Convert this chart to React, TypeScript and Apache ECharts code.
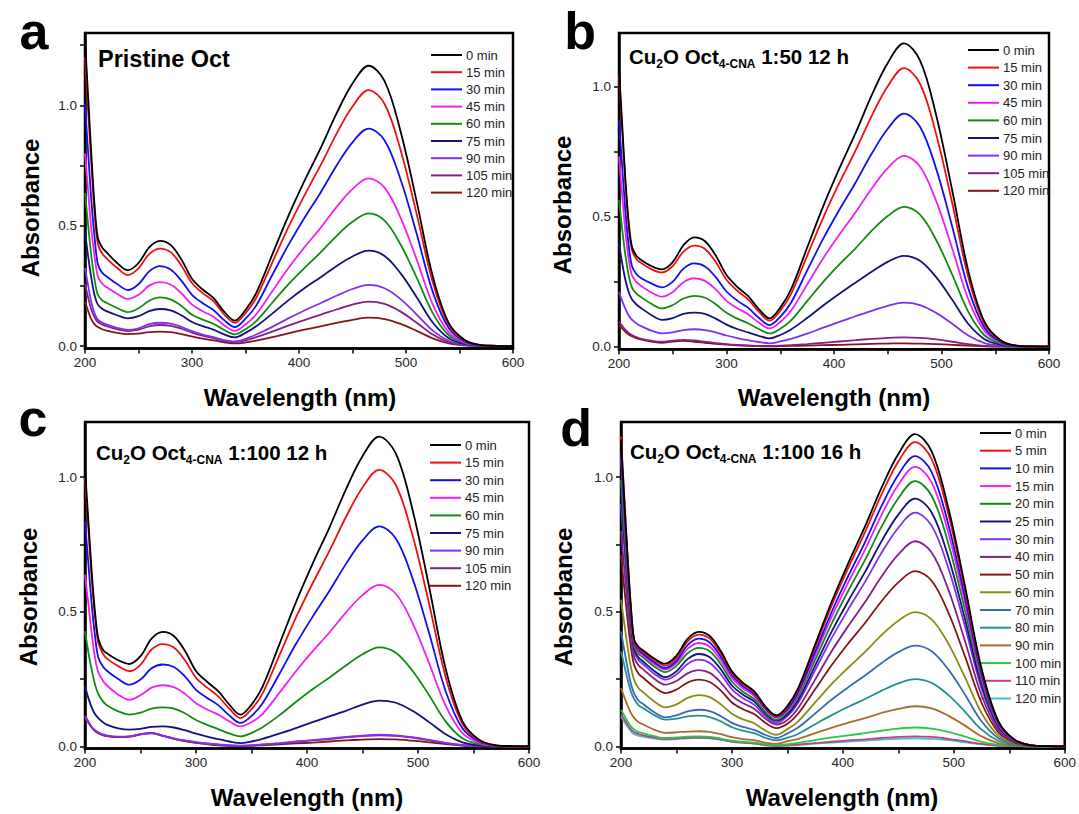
import React, { useEffect, useRef } from "react";
import * as echarts from "echarts";

const FONT = 'Arial, "Liberation Sans", Helvetica, sans-serif';

// wavelengths (nm)
const WAVELENGTHS = [200, 203, 206, 209, 212, 216, 220, 230, 240, 250, 260, 270, 280, 290, 300, 310, 320, 330, 340, 350, 360, 375, 390, 405, 420, 435, 450, 465, 480, 495, 510, 525, 540, 555, 570, 585, 600];

const X_TICKS = [200, 250, 300, 350, 400, 450, 500, 550, 600];
const X_LABELS = [200, 300, 400, 500, 600];
const Y_LABELS = [0, 0.5, 1.0];

const TIMES_ABC = ["0 min", "15 min", "30 min", "45 min", "60 min", "75 min", "90 min", "105 min", "120 min"];
const TIMES_D = ["0 min", "5 min", "10 min", "15 min", "20 min", "25 min", "30 min", "40 min", "50 min", "60 min", "70 min", "80 min", "90 min", "100 min", "110 min", "120 min"];

const COLORS_ABC = ["#000000", "#f01010", "#1010f0", "#f020f0", "#138a13", "#12127a", "#8030f0", "#862086", "#861616"];
const COLORS_D = ["#000000", "#f01010", "#1010f0", "#f020f0", "#138a13", "#12127a", "#8030f0", "#862086", "#861616", "#8c8c14", "#3a6ab4", "#259090", "#ad6a28", "#28c84a", "#c83c86", "#3cc4cc"];

// Panel a: Pristine Oct
const A_0 = [1.275, 1.03, 0.79, 0.58, 0.45, 0.41, 0.39, 0.345, 0.315, 0.345, 0.41, 0.437, 0.42, 0.36, 0.28, 0.235, 0.2, 0.143, 0.106, 0.15, 0.22, 0.38, 0.54, 0.685, 0.82, 0.965, 1.09, 1.164, 1.1, 0.89, 0.6, 0.29, 0.095, 0.025, 0.004, 0.001, 0];
const A_15 = [1.2, 0.97, 0.75, 0.55, 0.425, 0.385, 0.365, 0.325, 0.295, 0.323, 0.382, 0.405, 0.39, 0.335, 0.262, 0.22, 0.187, 0.132, 0.097, 0.137, 0.2, 0.347, 0.493, 0.625, 0.749, 0.881, 0.995, 1.063, 1.005, 0.813, 0.548, 0.265, 0.087, 0.023, 0.004, 0.001, 0];
const A_30 = [1.005, 0.8, 0.6, 0.45, 0.34, 0.305, 0.29, 0.258, 0.233, 0.257, 0.31, 0.332, 0.318, 0.272, 0.213, 0.178, 0.15, 0.108, 0.079, 0.114, 0.168, 0.295, 0.419, 0.532, 0.636, 0.749, 0.846, 0.903, 0.854, 0.691, 0.466, 0.225, 0.074, 0.019, 0.003, 0.001, 0];
const A_45 = [0.8, 0.64, 0.48, 0.37, 0.29, 0.26, 0.245, 0.217, 0.196, 0.213, 0.251, 0.266, 0.256, 0.22, 0.172, 0.145, 0.122, 0.087, 0.063, 0.09, 0.132, 0.228, 0.323, 0.41, 0.49, 0.577, 0.652, 0.696, 0.658, 0.532, 0.359, 0.173, 0.057, 0.015, 0.003, 0.001, 0];
const A_60 = [0.636, 0.5, 0.37, 0.275, 0.213, 0.19, 0.18, 0.158, 0.141, 0.157, 0.188, 0.202, 0.194, 0.167, 0.13, 0.11, 0.093, 0.067, 0.049, 0.07, 0.104, 0.18, 0.256, 0.324, 0.388, 0.457, 0.516, 0.551, 0.521, 0.421, 0.284, 0.137, 0.045, 0.012, 0.002, 0, 0];
const A_75 = [0.476, 0.37, 0.28, 0.21, 0.172, 0.155, 0.145, 0.128, 0.115, 0.124, 0.145, 0.154, 0.148, 0.128, 0.1, 0.083, 0.068, 0.049, 0.036, 0.055, 0.082, 0.135, 0.19, 0.24, 0.285, 0.332, 0.372, 0.396, 0.374, 0.302, 0.203, 0.098, 0.033, 0.009, 0.002, 0, 0];
const A_90 = [0.325, 0.25, 0.18, 0.135, 0.11, 0.098, 0.09, 0.076, 0.067, 0.074, 0.091, 0.097, 0.093, 0.08, 0.062, 0.048, 0.037, 0.025, 0.019, 0.03, 0.048, 0.08, 0.115, 0.148, 0.178, 0.209, 0.237, 0.254, 0.24, 0.195, 0.131, 0.064, 0.022, 0.006, 0.001, 0, 0];
const A_105 = [0.26, 0.2, 0.15, 0.12, 0.1, 0.09, 0.083, 0.07, 0.0625, 0.068, 0.082, 0.0875, 0.084, 0.072, 0.056, 0.043, 0.033, 0.022, 0.016, 0.024, 0.037, 0.06, 0.085, 0.108, 0.13, 0.152, 0.172, 0.185, 0.175, 0.143, 0.097, 0.048, 0.016, 0.004, 0.001, 0, 0];
const A_120 = [0.185, 0.145, 0.11, 0.09, 0.079, 0.07, 0.064, 0.055, 0.05, 0.052, 0.058, 0.06, 0.058, 0.05, 0.04, 0.031, 0.024, 0.016, 0.011, 0.015, 0.023, 0.037, 0.053, 0.068, 0.082, 0.096, 0.109, 0.118, 0.112, 0.092, 0.063, 0.032, 0.011, 0.003, 0.001, 0, 0];

// Panel b: Cu2O Oct4-CNA 1:50 12 h
const B_0 = [1.07, 0.85, 0.64, 0.48, 0.385, 0.35, 0.335, 0.31, 0.297, 0.325, 0.39, 0.42, 0.405, 0.35, 0.275, 0.23, 0.195, 0.145, 0.109, 0.15, 0.22, 0.38, 0.54, 0.685, 0.82, 0.965, 1.09, 1.165, 1.1, 0.89, 0.6, 0.29, 0.095, 0.025, 0.004, 0.001, 0];
const B_15 = [1.045, 0.83, 0.62, 0.465, 0.372, 0.338, 0.323, 0.298, 0.285, 0.31, 0.365, 0.388, 0.375, 0.325, 0.257, 0.215, 0.182, 0.135, 0.1, 0.138, 0.202, 0.349, 0.496, 0.629, 0.753, 0.886, 1.0, 1.07, 1.01, 0.817, 0.551, 0.266, 0.087, 0.023, 0.004, 0.001, 0];
const B_30 = [0.87, 0.69, 0.52, 0.39, 0.31, 0.28, 0.265, 0.243, 0.228, 0.25, 0.3, 0.32, 0.308, 0.267, 0.212, 0.177, 0.15, 0.111, 0.083, 0.115, 0.169, 0.292, 0.415, 0.526, 0.63, 0.741, 0.837, 0.895, 0.845, 0.684, 0.461, 0.223, 0.073, 0.019, 0.003, 0.001, 0];
const B_45 = [0.73, 0.58, 0.44, 0.335, 0.275, 0.25, 0.235, 0.208, 0.192, 0.21, 0.248, 0.263, 0.253, 0.22, 0.176, 0.148, 0.125, 0.093, 0.07, 0.095, 0.138, 0.239, 0.34, 0.431, 0.516, 0.607, 0.686, 0.733, 0.692, 0.56, 0.377, 0.182, 0.06, 0.016, 0.003, 0.001, 0];
const B_60 = [0.564, 0.45, 0.35, 0.275, 0.228, 0.205, 0.192, 0.165, 0.147, 0.16, 0.185, 0.195, 0.188, 0.163, 0.13, 0.108, 0.09, 0.068, 0.051, 0.069, 0.101, 0.175, 0.249, 0.316, 0.378, 0.445, 0.502, 0.537, 0.507, 0.41, 0.277, 0.134, 0.044, 0.012, 0.002, 0, 0];
const B_75 = [0.397, 0.32, 0.255, 0.21, 0.182, 0.163, 0.15, 0.122, 0.103, 0.11, 0.126, 0.131, 0.126, 0.108, 0.085, 0.068, 0.055, 0.042, 0.032, 0.045, 0.066, 0.11, 0.158, 0.203, 0.246, 0.288, 0.326, 0.349, 0.33, 0.267, 0.18, 0.087, 0.029, 0.008, 0.001, 0, 0];
const B_90 = [0.21, 0.175, 0.145, 0.12, 0.104, 0.09, 0.08, 0.062, 0.051, 0.055, 0.064, 0.067, 0.064, 0.055, 0.043, 0.033, 0.025, 0.018, 0.013, 0.02, 0.03, 0.05, 0.073, 0.095, 0.117, 0.138, 0.157, 0.169, 0.16, 0.13, 0.088, 0.043, 0.014, 0.004, 0.001, 0, 0];
const B_105 = [0.096, 0.08, 0.065, 0.053, 0.045, 0.037, 0.031, 0.023, 0.019, 0.023, 0.026, 0.024, 0.019, 0.014, 0.01, 0.007, 0.005, 0.003, 0.003, 0.004, 0.006, 0.01, 0.015, 0.02, 0.025, 0.03, 0.034, 0.036, 0.034, 0.028, 0.019, 0.01, 0.003, 0.001, 0, 0, 0];
const B_120 = [0.083, 0.07, 0.057, 0.047, 0.04, 0.033, 0.028, 0.02, 0.015, 0.02, 0.022, 0.019, 0.015, 0.011, 0.008, 0.005, 0.003, 0.002, 0.001, 0.002, 0.003, 0.004, 0.006, 0.007, 0.009, 0.011, 0.012, 0.013, 0.012, 0.01, 0.007, 0.004, 0.001, 0, 0, 0, 0];

// Panel c: Cu2O Oct4-CNA 1:100 12 h
const C_0 = [1.035, 0.84, 0.65, 0.5, 0.4, 0.36, 0.345, 0.32, 0.306, 0.335, 0.4, 0.425, 0.41, 0.355, 0.28, 0.24, 0.205, 0.155, 0.118, 0.155, 0.222, 0.378, 0.535, 0.678, 0.811, 0.954, 1.078, 1.151, 1.088, 0.88, 0.593, 0.287, 0.094, 0.025, 0.004, 0.001, 0];
const C_15 = [1.0, 0.81, 0.625, 0.48, 0.385, 0.345, 0.325, 0.298, 0.279, 0.303, 0.36, 0.38, 0.367, 0.32, 0.255, 0.218, 0.186, 0.14, 0.105, 0.138, 0.197, 0.337, 0.478, 0.605, 0.724, 0.851, 0.962, 1.027, 0.971, 0.785, 0.53, 0.256, 0.084, 0.022, 0.004, 0.001, 0];
const C_30 = [0.836, 0.68, 0.53, 0.41, 0.33, 0.298, 0.28, 0.25, 0.229, 0.248, 0.29, 0.304, 0.295, 0.26, 0.21, 0.18, 0.153, 0.115, 0.087, 0.113, 0.16, 0.268, 0.38, 0.481, 0.576, 0.677, 0.765, 0.817, 0.772, 0.625, 0.421, 0.204, 0.067, 0.018, 0.003, 0.001, 0];
const C_45 = [0.638, 0.53, 0.42, 0.33, 0.275, 0.245, 0.225, 0.192, 0.173, 0.19, 0.218, 0.227, 0.22, 0.195, 0.16, 0.137, 0.118, 0.093, 0.074, 0.09, 0.121, 0.198, 0.279, 0.353, 0.422, 0.497, 0.562, 0.6, 0.567, 0.459, 0.309, 0.15, 0.049, 0.013, 0.002, 0, 0];
const C_60 = [0.428, 0.35, 0.285, 0.23, 0.195, 0.168, 0.152, 0.13, 0.118, 0.125, 0.14, 0.145, 0.14, 0.123, 0.098, 0.08, 0.064, 0.048, 0.037, 0.05, 0.071, 0.115, 0.165, 0.212, 0.255, 0.3, 0.342, 0.368, 0.348, 0.281, 0.19, 0.092, 0.03, 0.008, 0.001, 0, 0];
const C_75 = [0.223, 0.18, 0.145, 0.12, 0.105, 0.09, 0.08, 0.067, 0.062, 0.065, 0.072, 0.074, 0.07, 0.06, 0.047, 0.036, 0.027, 0.018, 0.012, 0.018, 0.028, 0.047, 0.068, 0.09, 0.111, 0.132, 0.155, 0.17, 0.162, 0.132, 0.09, 0.045, 0.015, 0.004, 0.001, 0, 0];
const C_90 = [0.11, 0.09, 0.072, 0.06, 0.052, 0.045, 0.04, 0.036, 0.037, 0.045, 0.049, 0.04, 0.03, 0.022, 0.016, 0.011, 0.007, 0.004, 0.003, 0.004, 0.007, 0.012, 0.018, 0.023, 0.029, 0.035, 0.04, 0.043, 0.041, 0.034, 0.024, 0.013, 0.005, 0.002, 0.001, 0.001, 0.001];
const C_105 = [0.11, 0.088, 0.07, 0.058, 0.05, 0.043, 0.039, 0.035, 0.036, 0.044, 0.048, 0.039, 0.029, 0.021, 0.015, 0.01, 0.006, 0.003, 0.002, 0.003, 0.006, 0.011, 0.017, 0.022, 0.027, 0.033, 0.038, 0.041, 0.039, 0.032, 0.022, 0.012, 0.004, 0.001, 0, 0, 0];
const C_120 = [0.115, 0.092, 0.072, 0.058, 0.049, 0.042, 0.038, 0.034, 0.036, 0.045, 0.05, 0.04, 0.028, 0.019, 0.013, 0.008, 0.004, 0.002, 0.001, 0.002, 0.004, 0.007, 0.011, 0.014, 0.018, 0.022, 0.025, 0.027, 0.026, 0.021, 0.015, 0.008, 0.003, 0.001, 0, 0, 0];

// Panel d: Cu2O Oct4-CNA 1:100 16 h
const D_0 = [1.14, 0.916, 0.7, 0.514, 0.395, 0.369, 0.356, 0.326, 0.307, 0.337, 0.399, 0.425, 0.41, 0.354, 0.279, 0.236, 0.205, 0.149, 0.115, 0.15, 0.219, 0.378, 0.538, 0.682, 0.817, 0.962, 1.086, 1.16, 1.096, 0.887, 0.597, 0.289, 0.095, 0.024, 0.004, 0.001, 0];
const D_5 = [1.15, 0.922, 0.702, 0.512, 0.39, 0.363, 0.35, 0.32, 0.3, 0.329, 0.39, 0.415, 0.4, 0.345, 0.273, 0.23, 0.2, 0.145, 0.112, 0.146, 0.214, 0.368, 0.524, 0.664, 0.796, 0.937, 1.058, 1.13, 1.068, 0.864, 0.582, 0.281, 0.093, 0.024, 0.004, 0.001, 0];
const D_10 = [1.09, 0.878, 0.674, 0.498, 0.385, 0.357, 0.344, 0.312, 0.291, 0.318, 0.376, 0.4, 0.386, 0.333, 0.264, 0.223, 0.194, 0.142, 0.11, 0.139, 0.204, 0.351, 0.5, 0.634, 0.759, 0.894, 1.009, 1.078, 1.019, 0.825, 0.555, 0.268, 0.088, 0.023, 0.004, 0.001, 0];
const D_15 = [1.07, 0.863, 0.663, 0.49, 0.38, 0.352, 0.338, 0.306, 0.285, 0.31, 0.362, 0.384, 0.37, 0.32, 0.254, 0.215, 0.187, 0.137, 0.107, 0.134, 0.196, 0.338, 0.482, 0.61, 0.731, 0.861, 0.972, 1.038, 0.981, 0.794, 0.535, 0.258, 0.085, 0.022, 0.004, 0.001, 0];
const D_20 = [0.99, 0.805, 0.625, 0.471, 0.372, 0.343, 0.33, 0.297, 0.276, 0.299, 0.346, 0.366, 0.353, 0.305, 0.241, 0.203, 0.176, 0.128, 0.099, 0.127, 0.186, 0.321, 0.457, 0.579, 0.693, 0.817, 0.922, 0.985, 0.931, 0.754, 0.507, 0.245, 0.081, 0.021, 0.003, 0.001, 0];
const D_25 = [0.95, 0.773, 0.602, 0.454, 0.36, 0.329, 0.315, 0.28, 0.257, 0.279, 0.324, 0.343, 0.331, 0.286, 0.226, 0.192, 0.167, 0.122, 0.095, 0.119, 0.174, 0.3, 0.427, 0.541, 0.648, 0.763, 0.861, 0.92, 0.869, 0.704, 0.474, 0.229, 0.075, 0.019, 0.003, 0.001, 0];
const D_30 = [0.9, 0.735, 0.576, 0.438, 0.35, 0.319, 0.305, 0.27, 0.248, 0.267, 0.306, 0.322, 0.31, 0.268, 0.212, 0.179, 0.155, 0.113, 0.087, 0.112, 0.164, 0.283, 0.403, 0.51, 0.611, 0.72, 0.812, 0.868, 0.82, 0.664, 0.447, 0.216, 0.071, 0.018, 0.003, 0.001, 0];
const D_40 = [0.8, 0.659, 0.523, 0.405, 0.33, 0.3, 0.286, 0.251, 0.229, 0.243, 0.271, 0.283, 0.273, 0.237, 0.188, 0.16, 0.14, 0.103, 0.081, 0.098, 0.144, 0.248, 0.354, 0.448, 0.536, 0.632, 0.713, 0.762, 0.72, 0.583, 0.392, 0.19, 0.062, 0.016, 0.003, 0.001, 0];
const D_50 = [0.71, 0.587, 0.468, 0.366, 0.3, 0.269, 0.255, 0.22, 0.198, 0.211, 0.237, 0.248, 0.239, 0.207, 0.163, 0.138, 0.12, 0.088, 0.068, 0.084, 0.123, 0.212, 0.302, 0.383, 0.458, 0.54, 0.609, 0.651, 0.615, 0.498, 0.335, 0.162, 0.053, 0.014, 0.002, 0.001, 0];
const D_60 = [0.545, 0.455, 0.368, 0.293, 0.245, 0.215, 0.201, 0.167, 0.145, 0.156, 0.18, 0.19, 0.183, 0.156, 0.121, 0.1, 0.086, 0.059, 0.043, 0.064, 0.094, 0.163, 0.232, 0.293, 0.351, 0.414, 0.467, 0.499, 0.472, 0.382, 0.257, 0.124, 0.041, 0.01, 0.002, 0, 0];
const D_70 = [0.427, 0.357, 0.29, 0.232, 0.195, 0.169, 0.157, 0.127, 0.108, 0.115, 0.13, 0.136, 0.131, 0.112, 0.087, 0.072, 0.061, 0.043, 0.031, 0.048, 0.071, 0.122, 0.174, 0.22, 0.263, 0.31, 0.35, 0.374, 0.353, 0.286, 0.193, 0.093, 0.031, 0.008, 0.001, 0, 0];
const D_80 = [0.353, 0.3, 0.248, 0.203, 0.175, 0.152, 0.142, 0.116, 0.099, 0.103, 0.111, 0.114, 0.109, 0.093, 0.071, 0.058, 0.049, 0.032, 0.022, 0.032, 0.047, 0.082, 0.116, 0.147, 0.176, 0.207, 0.234, 0.25, 0.236, 0.191, 0.129, 0.062, 0.021, 0.005, 0.001, 0, 0];
const D_90 = [0.217, 0.183, 0.151, 0.123, 0.105, 0.089, 0.081, 0.062, 0.05, 0.052, 0.055, 0.056, 0.054, 0.045, 0.034, 0.027, 0.023, 0.014, 0.009, 0.019, 0.028, 0.049, 0.069, 0.088, 0.105, 0.124, 0.139, 0.149, 0.141, 0.114, 0.077, 0.037, 0.012, 0.003, 0.001, 0, 0];
const D_100 = [0.136, 0.114, 0.092, 0.074, 0.062, 0.053, 0.048, 0.038, 0.031, 0.033, 0.036, 0.037, 0.035, 0.029, 0.021, 0.017, 0.014, 0.008, 0.004, 0.008, 0.013, 0.023, 0.033, 0.041, 0.049, 0.058, 0.066, 0.07, 0.066, 0.054, 0.036, 0.017, 0.006, 0.002, 0, 0, 0];
const D_110 = [0.12, 0.1, 0.08, 0.063, 0.052, 0.045, 0.041, 0.033, 0.027, 0.029, 0.032, 0.033, 0.031, 0.026, 0.018, 0.014, 0.011, 0.005, 0.002, 0.004, 0.007, 0.012, 0.017, 0.022, 0.026, 0.031, 0.035, 0.037, 0.035, 0.028, 0.019, 0.009, 0.003, 0.001, 0, 0, 0];
const D_120 = [0.111, 0.091, 0.072, 0.056, 0.045, 0.039, 0.036, 0.029, 0.025, 0.027, 0.03, 0.031, 0.03, 0.024, 0.017, 0.013, 0.01, 0.004, 0.001, 0.003, 0.005, 0.01, 0.014, 0.018, 0.021, 0.025, 0.028, 0.03, 0.028, 0.023, 0.015, 0.007, 0.002, 0.001, 0, 0, 0];

const PANELS = [
  {
    key: "a",
    names: TIMES_ABC,
    colors: COLORS_ABC,
    values: [A_0, A_15, A_30, A_45, A_60, A_75, A_90, A_105, A_120],
    grid: { left: 85, top: 33, width: 428, height: 315.5 },
    yMin: -0.01,
    yMax: 1.3,
    yTicks: [0, 0.25, 0.5, 0.75, 1.0, 1.25],
    legend: { left: 426, top: 43, gap: 3.2 },
  },
  {
    key: "b",
    names: TIMES_ABC,
    colors: COLORS_ABC,
    values: [B_0, B_15, B_30, B_45, B_60, B_75, B_90, B_105, B_120],
    grid: { left: 619, top: 33, width: 430, height: 316.3 },
    yMin: -0.01,
    yMax: 1.205,
    yTicks: [0, 0.25, 0.5, 0.75, 1.0],
    legend: { left: 963, top: 38, gap: 3.6 },
  },
  {
    key: "c",
    names: TIMES_ABC,
    colors: COLORS_ABC,
    values: [C_0, C_15, C_30, C_45, C_60, C_75, C_90, C_105, C_120],
    grid: { left: 85, top: 422, width: 444, height: 326.5 },
    yMin: -0.008,
    yMax: 1.205,
    yTicks: [0, 0.25, 0.5, 0.75, 1.0],
    legend: { left: 425, top: 433, gap: 3.6 },
  },
  {
    key: "d",
    names: TIMES_D,
    colors: COLORS_D,
    values: [D_0, D_5, D_10, D_15, D_20, D_25, D_30, D_40, D_50, D_60, D_70, D_80, D_90, D_100, D_110, D_120],
    grid: { left: 621, top: 422, width: 444, height: 326.5 },
    yMin: -0.008,
    yMax: 1.205,
    yTicks: [0, 0.25, 0.5, 0.75, 1.0],
    legend: { left: 975, top: 421, gap: 3.7 },
  },
];

function buildOption() {
  const grid: any[] = [];
  const xAxis: any[] = [];
  const yAxis: any[] = [];
  const legend: any[] = [];
  const series: any[] = [];

  PANELS.forEach((p, gi) => {
    grid.push({ ...p.grid, show: true, borderColor: "#000", borderWidth: 2.5, backgroundColor: "transparent", containLabel: false });
    xAxis.push({
      type: "value",
      gridIndex: gi,
      min: 200,
      max: 600,
      axisLine: { show: true, onZero: false, lineStyle: { color: "#000", width: 2.5 } },
      axisTick: { show: true, inside: false, length: 5, lineStyle: { color: "#000", width: 1.5 }, customValues: X_TICKS },
      axisLabel: { customValues: X_LABELS, fontSize: 13.5, color: "#262626", margin: 7, fontFamily: FONT },
      splitLine: { show: false },
    });
    yAxis.push({
      type: "value",
      gridIndex: gi,
      min: p.yMin,
      max: p.yMax,
      axisLine: { show: true, onZero: false, lineStyle: { color: "#000", width: 2.5 } },
      axisTick: { show: true, inside: false, length: 5, lineStyle: { color: "#000", width: 1.5 }, customValues: p.yTicks },
      axisLabel: { customValues: Y_LABELS, fontSize: 13.5, color: "#262626", margin: 8, fontFamily: FONT, formatter: (v: number) => v.toFixed(1) },
      splitLine: { show: false },
    });
    const ids = p.names.map((n) => p.key + "|" + n);
    legend.push({
      orient: "vertical",
      left: p.legend.left,
      top: p.legend.top,
      itemWidth: 31,
      itemHeight: 2,
      itemGap: p.legend.gap,
      icon: "rect",
      data: ids,
      formatter: (name: string) => name.split("|")[1],
      textStyle: { fontSize: 13, color: "#222", fontFamily: FONT, lineHeight: 14, padding: [0, 0, 0, -1] },
      selectedMode: false,
    });
    p.values.forEach((vals, si) => {
      series.push({
        type: "line",
        name: ids[si],
        xAxisIndex: gi,
        yAxisIndex: gi,
        data: WAVELENGTHS.map((w, i) => [w, vals[i]]),
        symbol: "none",
        smooth: 0.35,
        color: p.colors[si],
        lineStyle: { width: 1.8, color: p.colors[si] },
        z: 10 + (p.values.length - si),
      });
    });
  });

  const letter = (t: string, x: number, y: number) => ({
    type: "text",
    x,
    y,
    z: 100,
    style: { text: t, fontSize: 52, fontWeight: "bold", fontFamily: FONT, fill: "#000", align: "center", verticalAlign: "middle" },
  });
  const yName = (x: number, y: number) => ({
    type: "text",
    x,
    y,
    rotation: Math.PI / 2,
    z: 100,
    style: { text: "Absorbance", fontSize: 24, fontWeight: "bold", fontFamily: FONT, fill: "#000", align: "center", verticalAlign: "middle" },
  });
  const xName = (x: number, y: number) => ({
    type: "text",
    x,
    y,
    z: 100,
    style: { text: "Wavelength (nm)", fontSize: 24, fontWeight: "bold", fontFamily: FONT, fill: "#000", align: "center", verticalAlign: "middle" },
  });
  const richTitle = (x: number, y: number, tail: string) => ({
    type: "text",
    x,
    y,
    z: 100,
    style: {
      text: "{m|Cu}{s|2}{m|O Oct}{s|4-CNA}{m|" + tail + "}",
      fill: "#000",
      align: "left",
      verticalAlign: "middle",
      rich: {
        m: { fontSize: 20.5, fontWeight: "bold", fontFamily: FONT, lineHeight: 28, fill: "#000" },
        s: { fontSize: 12, fontWeight: "bold", fontFamily: FONT, lineHeight: 14, verticalAlign: "bottom", fill: "#000" },
      },
    },
  });

  const graphic = [
    letter("a", 34, 31),
    letter("b", 580, 31),
    letter("c", 33, 418),
    letter("d", 576, 428),
    yName(30, 208),
    yName(562, 205),
    yName(28, 597),
    yName(563, 597),
    xName(300, 397),
    xName(834, 397),
    xName(307, 797),
    xName(842, 797),
    {
      type: "text",
      x: 98,
      y: 59,
      z: 100,
      style: { text: "Pristine Oct", fontSize: 23.5, fontWeight: "bold", fontFamily: FONT, fill: "#000", align: "left", verticalAlign: "middle" },
    },
    richTitle(629, 56, " 1:50 12 h"),
    richTitle(96, 452, " 1:100 12 h"),
    richTitle(630, 451, " 1:100 16 h"),
  ];

  return {
    animation: false,
    backgroundColor: "#fff",
    grid,
    xAxis,
    yAxis,
    legend,
    series,
    graphic,
  };
}

export default function App() {
  const ref = useRef<HTMLDivElement>(null);
  useEffect(() => {
    if (!ref.current) return;
    const chart = echarts.init(ref.current, null, { renderer: "svg" });
    chart.setOption(buildOption() as any);
    return () => chart.dispose();
  }, []);
  return <div ref={ref} style={{ position: "absolute", left: 0, top: 0, width: 1079, height: 814 }} />;
}
